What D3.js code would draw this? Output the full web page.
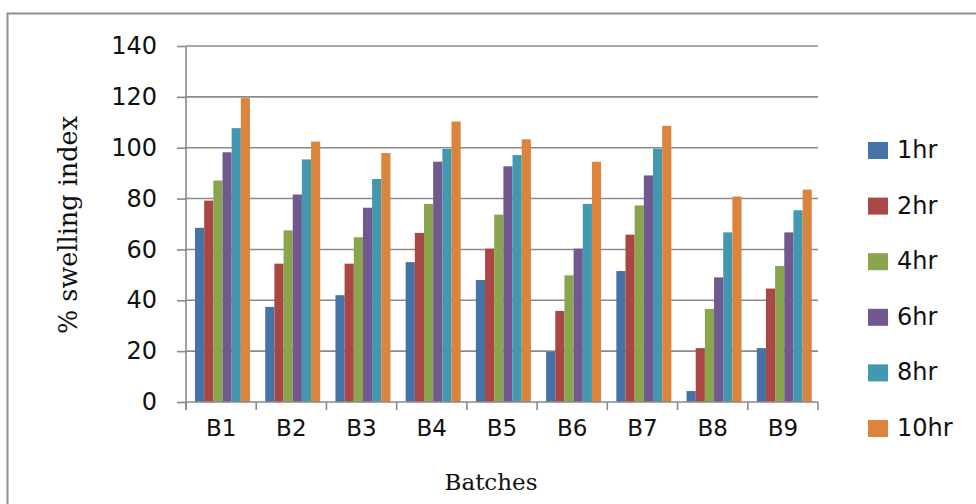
<!DOCTYPE html>
<html><head><meta charset="utf-8">
<script src="https://cdn.jsdelivr.net/npm/d3@7"></script>
<style>html,body{margin:0;padding:0;background:#fff;overflow:hidden}</style>
</head><body>
<svg id="chart" width="976" height="504"></svg>
<script>
const categories = ["B1","B2","B3","B4","B5","B6","B7","B8","B9"];
const seriesNames = ["1hr","2hr","4hr","6hr","8hr","10hr"];
const h1  = [68.5, 37.4, 42.0, 55.0, 48.0, 19.7, 51.5, 4.3, 21.2];
const h2  = [79.2, 54.4, 54.4, 66.5, 60.3, 35.8, 65.8, 21.2, 44.6];
const h4  = [87.1, 67.5, 64.8, 77.9, 73.7, 49.8, 77.3, 36.6, 53.5];
const h6  = [98.2, 81.6, 76.4, 94.5, 92.7, 60.3, 89.1, 49.0, 66.7];
const h8  = [107.7, 95.4, 87.7, 99.5, 97.1, 77.9, 99.6, 66.7, 75.4];
const h10 = [119.5, 102.4, 97.9, 110.3, 103.3, 94.5, 108.6, 80.8, 83.5];
const yTicks = [0,20,40,60,80,100,120,140];
const colors = ["#4572A7","#AA4643","#89A54E","#71588F","#4198AF","#DB843D"];

const seriesValues = [h1,h2,h4,h6,h8,h10];
const svg = d3.select("#chart");

// outer frame
svg.append("rect").attr("x",7.5).attr("y",13.5).attr("width",1000).attr("height",600)
  .attr("fill","none").attr("stroke","#8f8f8f").attr("stroke-width",2);

const pLeft = 186, pRight = 818, pTop = 46, pBottom = 402;
const x0 = d3.scaleBand().domain(categories).range([pLeft,pRight]).paddingInner(0).paddingOuter(0);
const x1 = d3.scaleBand().domain(seriesNames).range([9, 64]).padding(0);
const y = d3.scaleLinear().domain([0,140]).range([pBottom, pTop]);
const gridColor = "#8a8a8a";

// gridlines
svg.append("g").selectAll("line").data(yTicks.filter(d=>d>0)).join("line")
  .attr("x1",pLeft).attr("x2",pRight).attr("y1",d=>y(d)).attr("y2",d=>y(d))
  .attr("stroke",gridColor).attr("stroke-width",1.6);

// bars
const groups = svg.append("g").selectAll("g").data(categories).join("g")
  .attr("transform",d=>`translate(${x0(d)},0)`);
groups.selectAll("rect").data((c,ci)=>seriesNames.map((s,si)=>({s,si,v:seriesValues[si][ci]}))).join("rect")
  .attr("x",d=>x1(d.s)).attr("width",x1.bandwidth())
  .attr("y",d=>y(d.v)).attr("height",d=>y(0)-y(d.v))
  .attr("fill",d=>colors[d.si]);

// y axis
const yAxis = d3.axisLeft(y).tickValues(yTicks).tickSize(9).tickPadding(20);
const gy = svg.append("g").attr("transform",`translate(${pLeft},0)`).call(yAxis);
gy.select(".domain").attr("stroke",gridColor).attr("stroke-width",1.6).attr("d",`M0,${pTop}V${pBottom+8}`);
gy.selectAll(".tick line").attr("stroke",gridColor).attr("stroke-width",1.6);
gy.selectAll(".tick text").attr("font-family","DejaVu Sans").attr("font-size",24).attr("fill","#111");

// x axis line + ticks at band boundaries
svg.append("line").attr("x1",pLeft).attr("x2",pRight).attr("y1",pBottom).attr("y2",pBottom)
  .attr("stroke",gridColor).attr("stroke-width",1.6);
const bounds = categories.map(c=>x0(c)).concat([pRight]);
svg.append("g").selectAll("line").data(bounds).join("line")
  .attr("x1",d=>d).attr("x2",d=>d).attr("y1",pBottom).attr("y2",pBottom+8)
  .attr("stroke",gridColor).attr("stroke-width",1.6);
svg.append("g").selectAll("text").data(categories).join("text")
  .attr("x",d=>x0(d)+x0.bandwidth()/2).attr("y",436)
  .attr("text-anchor","middle").attr("font-family","DejaVu Sans").attr("font-size",23)
  .attr("fill","#111").text(d=>d);

// axis titles
svg.append("text").attr("x",491).attr("y",490).attr("text-anchor","middle")
  .attr("font-family","DejaVu Serif").attr("font-size",23).attr("fill","#111").text("Batches");
svg.append("text").attr("transform","translate(77,225) rotate(-90)").attr("text-anchor","middle")
  .attr("font-family","DejaVu Serif").attr("font-size",25.5).attr("fill","#111").text("% swelling index");

// legend
const lg = svg.append("g").selectAll("g").data(seriesNames).join("g")
  .attr("transform",(d,i)=>`translate(868,${142 + i*55.6})`);
lg.append("rect").attr("width",20).attr("height",17).attr("fill",(d,i)=>colors[i]);
lg.append("text").attr("x",29).attr("y",16).attr("font-family","DejaVu Sans").attr("font-size",24)
  .attr("fill","#111").text(d=>d);
</script>
</body></html>
